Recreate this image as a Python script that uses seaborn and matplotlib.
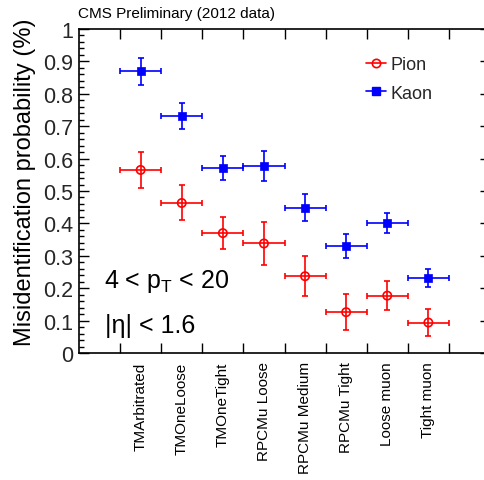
import matplotlib
matplotlib.use("Agg")
import matplotlib.pyplot as plt
from matplotlib.lines import Line2D
from matplotlib.ticker import MultipleLocator, FixedLocator, FuncFormatter, NullFormatter
import seaborn as sns
import numpy as np
import pandas as pd

categories = ["TMArbitrated", "TMOneLoose", "TMOneTight", "RPCMu Loose",
              "RPCMu Medium", "RPCMu Tight", "Loose muon", "Tight muon"]
pion_vals = [0.565, 0.463, 0.370, 0.338, 0.237, 0.126, 0.177, 0.094]
pion_errs = [0.055, 0.054, 0.050, 0.065, 0.062, 0.055, 0.045, 0.041]
kaon_vals = [0.869, 0.731, 0.571, 0.577, 0.448, 0.330, 0.401, 0.232]
kaon_errs = [0.043, 0.040, 0.036, 0.045, 0.042, 0.036, 0.031, 0.027]
yticks = [0, 0.1, 0.2, 0.3, 0.4, 0.5, 0.6, 0.7, 0.8, 0.9, 1]

sns.set_theme(style="ticks")
plt.rcParams["font.family"] = ["Liberation Sans", "DejaVu Sans"]
plt.rcParams["mathtext.fontset"] = "custom"
plt.rcParams["mathtext.rm"] = "Liberation Sans"
plt.rcParams["mathtext.it"] = "Liberation Sans:italic"

W, H = 484, 481
fig = plt.figure(figsize=(W / 100, H / 100), dpi=100)
fig.patch.set_facecolor("white")
x0, x1, ytop, ybot = 79, 490, 30, 354
ax = fig.add_axes([x0 / W, 1 - ybot / H, (x1 - x0) / W, (ybot - ytop) / H])
ax.set_facecolor("white")

centers = np.arange(len(categories)) + 1.5
df = pd.DataFrame({
    "x": np.concatenate([centers, centers]),
    "y": pion_vals + kaon_vals,
    "err": pion_errs + kaon_errs,
    "particle": ["Pion"] * len(categories) + ["Kaon"] * len(categories),
})

colors = {"Pion": "#ff0000", "Kaon": "#0000ff"}
for name, sub in df.groupby("particle"):
    ax.errorbar(sub["x"], sub["y"], xerr=0.5, yerr=sub["err"], fmt="none",
                ecolor=colors[name], elinewidth=1.2, capsize=2.5, capthick=1.2, zorder=2)

pion = df[df.particle == "Pion"]
kaon = df[df.particle == "Kaon"]
sns.scatterplot(data=pion, x="x", y="y", ax=ax, marker="o", s=36,
                facecolors="none", edgecolor="#ff0000", linewidth=1.2, legend=False, zorder=3)
sns.scatterplot(data=kaon, x="x", y="y", ax=ax, marker="s", s=38,
                color="#0000ff", edgecolor="#0000ff", linewidth=0.5, legend=False, zorder=3)

ax.set_xlim(0, 10)
ax.set_ylim(0, 1)
ax.set_xlabel("")
ax.set_ylabel("")

ax.xaxis.set_major_locator(FixedLocator(np.arange(1, 10)))
ax.xaxis.set_major_formatter(NullFormatter())
ax.xaxis.set_minor_locator(FixedLocator(centers))
ax.xaxis.set_minor_formatter(FuncFormatter(lambda v, p: categories[int(v - 1.5 + 0.01)] if 0 <= int(v - 1.5 + 0.01) < len(categories) else ""))
ax.tick_params(axis="x", which="major", direction="in", length=7.2, width=1, top=True, bottom=True, color="black")
ax.tick_params(axis="x", which="minor", length=0, pad=6, labelsize=11, labelrotation=90, colors="black")
for lab in ax.get_xticklabels(minor=True):
    lab.set_va("top")

ax.yaxis.set_major_locator(FixedLocator(yticks))
ax.yaxis.set_major_formatter(FuncFormatter(lambda v, p: "%g" % round(v, 2)))
ax.yaxis.set_minor_locator(MultipleLocator(0.02))
ax.tick_params(axis="y", which="major", direction="in", length=7.2, width=1, left=True, right=True,
               labelsize=15.5, pad=4, color="black")
ax.tick_params(axis="y", which="minor", direction="in", length=3.6, width=1, left=True, right=True, color="black")

for s in ax.spines.values():
    s.set_color("black")
    s.set_linewidth(1.2)
    s.set_visible(True)

fig.text(25 / W, 1 - 182 / H, "Misidentification probability (%)", rotation=90,
         ha="center", va="center", fontsize=17, color="black")
fig.text(78 / W, 1 - 14 / H, "CMS Preliminary (2012 data)", ha="left", va="center",
         fontsize=11, color="black")
fig.text(104 / W, 1 - 288 / H, r"4 < p$_\mathrm{T}$ < 20", ha="left", va="baseline",
         fontsize=18, color="black")
fig.text(105 / W, 1 - 333 / H, "|η| < 1.6", ha="left", va="baseline",
         fontsize=18, color="black")

handles = [
    Line2D([0], [0], color="#ff0000", lw=1.2, marker="o", markersize=6, markerfacecolor="none",
           markeredgecolor="#ff0000", markeredgewidth=1.2),
    Line2D([0], [0], color="#0000ff", lw=1.2, marker="s", markersize=6, markerfacecolor="#0000ff",
           markeredgecolor="#0000ff"),
]
ax.legend(handles, ["Pion", "Kaon"], loc="upper left", bbox_to_anchor=(366 / W, 1 - 57 / H),
          bbox_transform=fig.transFigure, frameon=False, fontsize=13, handlelength=1.1,
          handletextpad=0.25, labelspacing=0.65, borderpad=0, borderaxespad=0)

fig.savefig("out.png", dpi=100, facecolor="white")
